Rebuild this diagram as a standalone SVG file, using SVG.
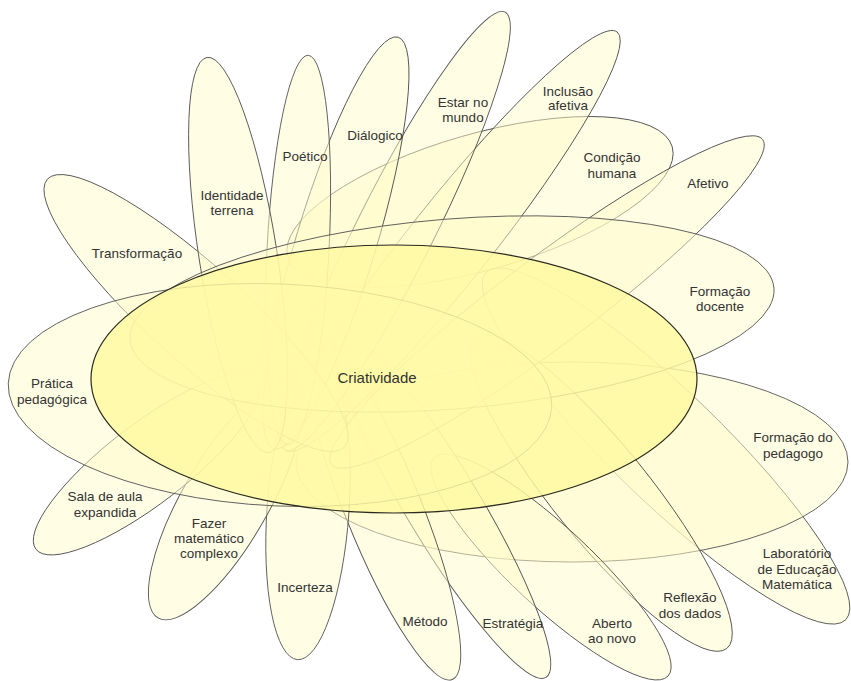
<svg xmlns="http://www.w3.org/2000/svg" width="851" height="681" viewBox="0 0 851 681">
<style>
.petal{fill:#fffbca;fill-opacity:.5;stroke:#555;stroke-width:.9}
.core{fill:#fff9a0;fill-opacity:.82;stroke:#2a2a20;stroke-width:1.2}
.lbl{font-family:"Liberation Sans",Arial,sans-serif;font-size:13.5px;fill:#333;text-anchor:middle}
.big{font-size:15px}
</style>
<rect width="851" height="681" fill="#fff"/>
<g id="n-laboratorio"><ellipse class="petal" cx="666" cy="446" rx="250" ry="55" transform="rotate(44 666 446)"/>
<text class="lbl" x="797" y="558">Laboratório</text><text class="lbl" x="797" y="574">de Educação</text><text class="lbl" x="797" y="589">Matemática</text></g>
<g id="n-formacao-pedagogo"><ellipse class="petal" cx="572" cy="462" rx="276" ry="100"/>
<text class="lbl" x="793" y="442">Formação do</text><text class="lbl" x="793" y="458">pedagogo</text></g>
<g id="n-reflexao"><ellipse class="petal" cx="601" cy="493" rx="200" ry="48" transform="rotate(51 601 493)"/>
<text class="lbl" x="690" y="602">Reflexão</text><text class="lbl" x="690" y="618">dos dados</text></g>
<g id="n-aberto"><ellipse class="petal" cx="551" cy="567" rx="160" ry="40" transform="rotate(43 551 567)"/>
<text class="lbl" x="612" y="628">Aberto</text><text class="lbl" x="612" y="643">ao novo</text></g>
<g id="n-estrategia"><ellipse class="petal" cx="443" cy="506" rx="200" ry="37" transform="rotate(59 443 506)"/>
<text class="lbl" x="513" y="628">Estratégia</text></g>
<g id="n-metodo"><ellipse class="petal" cx="383" cy="508" rx="185" ry="38" transform="rotate(68 383 508)"/>
<text class="lbl" x="425" y="626">Método</text></g>
<g id="n-incerteza"><ellipse class="petal" cx="308" cy="510" rx="150" ry="41" transform="rotate(-86 308 510)"/>
<text class="lbl" x="305" y="592">Incerteza</text></g>
<g id="n-fazer"><ellipse class="petal" cx="225.5" cy="501" rx="135" ry="43" transform="rotate(-60 225.5 501)"/>
<text class="lbl" x="209" y="528">Fazer</text><text class="lbl" x="209" y="543">matemático</text><text class="lbl" x="209" y="558">complexo</text></g>
<g id="n-sala"><ellipse class="petal" cx="147" cy="464" rx="140" ry="40" transform="rotate(-37.5 147 464)"/>
<text class="lbl" x="105" y="501">Sala de aula</text><text class="lbl" x="105" y="517">expandida</text></g>
<g id="n-condicao"><ellipse class="petal" cx="480" cy="202" rx="200" ry="68" transform="rotate(-16 480 202)"/>
<text class="lbl" x="612" y="162">Condição</text><text class="lbl" x="612" y="178">humana</text></g>
<g id="n-afetivo"><ellipse class="petal" cx="547" cy="302" rx="270" ry="44" transform="rotate(-37 547 302)"/>
<text class="lbl" x="708" y="188">Afetivo</text></g>
<g id="n-inclusao"><ellipse class="petal" cx="451" cy="241" rx="267" ry="41" transform="rotate(-51.5 451 241)"/>
<text class="lbl" x="568" y="96">Inclusão</text><text class="lbl" x="568" y="110">afetiva</text></g>
<g id="n-estar"><ellipse class="petal" cx="395" cy="231" rx="245" ry="38.5" transform="rotate(-63.3 395 231)"/>
<text class="lbl" x="463" y="107">Estar no</text><text class="lbl" x="463" y="122">mundo</text></g>
<g id="n-dialogico"><ellipse class="petal" cx="336" cy="243" rx="215" ry="40" transform="rotate(-73.2 336 243)"/>
<text class="lbl" x="375" y="140">Diálogico</text></g>
<g id="n-poetico"><ellipse class="petal" cx="298" cy="250" rx="195" ry="31" transform="rotate(-87 298 250)"/>
<text class="lbl" x="305" y="161">Poético</text></g>
<g id="n-transformacao"><ellipse class="petal" cx="196" cy="313" rx="200" ry="48" transform="rotate(42 196 313)"/>
<text class="lbl" x="137" y="258">Transformação</text></g>
<g id="n-identidade"><ellipse class="petal" cx="238" cy="255" rx="200" ry="39" transform="rotate(81.1 238 255)"/>
<text class="lbl" x="232" y="200">Identidade</text><text class="lbl" x="232" y="215">terrena</text></g>
<g id="n-formacao-docente"><ellipse class="petal" cx="452" cy="314" rx="323" ry="95" transform="rotate(-4.6 452 314)"/>
<text class="lbl" x="720" y="296">Formação</text><text class="lbl" x="720" y="311">docente</text></g>
<g id="n-pratica"><ellipse class="petal" cx="280" cy="395" rx="272" ry="111" transform="rotate(2.5 280 395)"/>
<text class="lbl" x="52" y="388">Prática</text><text class="lbl" x="52" y="404">pedagógica</text></g>
<g id="n-criatividade"><ellipse class="core" cx="394" cy="379" rx="303" ry="134"/>
<text class="lbl big" x="377" y="383">Criatividade</text></g>
</svg>
